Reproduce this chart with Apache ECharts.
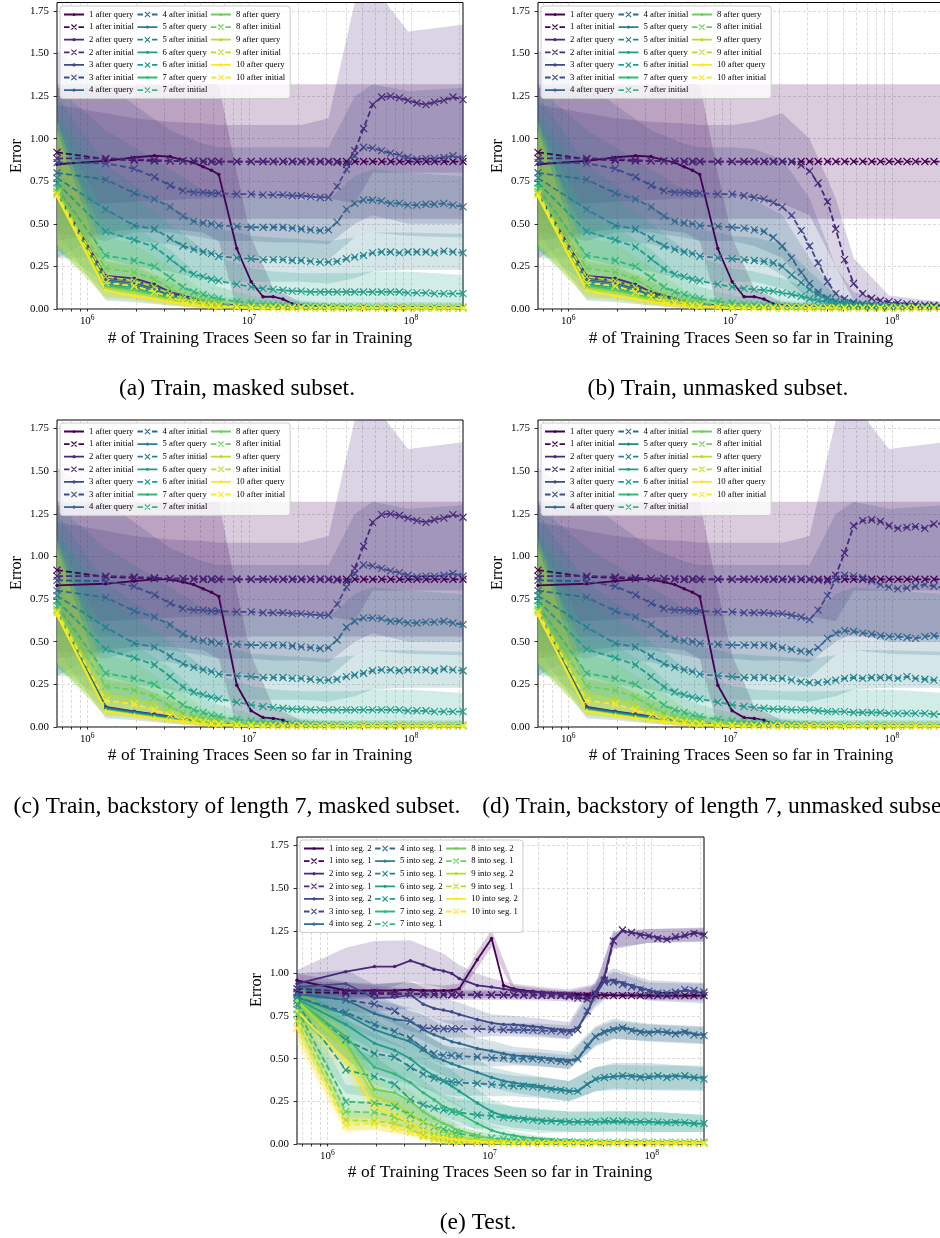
<!DOCTYPE html>
<html><head><meta charset="utf-8">
<script src="https://cdn.jsdelivr.net/npm/echarts@6/dist/echarts.min.js"></script>
<style>html,body{margin:0;padding:0;background:#fff;overflow:hidden}#c{width:940px;height:1238px}</style>
</head><body><div id="c"></div><script>
// ---------- x sample grids ----------
const X = [6.5e5,1.3e6,1.95e6,2.6e6,3.25e6,3.9e6,4.55e6,5.2e6,5.85e6,6.5e6, 8.4e6,1.03e7,1.22e7,1.41e7,1.62e7,1.85e7,2.1e7,2.4e7,2.75e7,3.1e7, 3.5e7,4e7,4.5e7,5.1e7,5.8e7,6.6e7,7.5e7,8.5e7,9.6e7,1.09e8, 1.24e8,1.4e8,1.6e8,1.82e8,2.1e8];
const XQ = [6.5e5,1.3e6,1.95e6,2.6e6,3.25e6,3.9e6,4.55e6,5.2e6,5.85e6,6.5e6, 8.4e6,1.03e7,1.22e7,1.41e7,1.62e7,1.85e7,2.1e7,3.1e7,5.1e7,8.5e7, 1.4e8,2.1e8];
const BX = [6.5e5,1.3e6,1.95e6,3.25e6,5.2e6,6.5e6,8.4e6,1.03e7,1.41e7,2.1e7,3.1e7,4.5e7,5.8e7,9.6e7,2.1e8];
const X_MAJOR = [1e6,1e7,1e8];
const X_TICKS = [7e5,8e5,9e5,1e6,2e6,3e6,4e6,5e6,6e6,7e6,8e6,9e6,1e7,2e7,3e7,4e7,5e7,6e7,7e7,8e7,9e7,1e8,2e8];
const Y_TICKS = [0,0.25,0.5,0.75,1,1.25,1.5,1.75];

// ---------- panel (a) : after initial ----------
const A_I1 = [0.92,0.88,0.875,0.87,0.87,0.87,0.868,0.866,0.866,0.866, 0.866,0.866,0.866,0.866,0.866,0.866,0.866,0.866,0.866,0.866, 0.866,0.866,0.866,0.866,0.866,0.866,0.866,0.866,0.866,0.866, 0.866,0.866,0.866,0.866,0.866];
const A_I2 = [0.885,0.885,0.88,0.875,0.87,0.87,0.868,0.866,0.866,0.866, 0.866,0.866,0.866,0.866,0.866,0.866,0.866,0.866,0.866,0.865, 0.862,0.85,0.93,1.06,1.2,1.245,1.25,1.24,1.225,1.21, 1.2,1.215,1.225,1.245,1.23];
const A_I3 = [0.86,0.855,0.825,0.775,0.725,0.695,0.685,0.685,0.68,0.68, 0.675,0.675,0.67,0.67,0.67,0.665,0.665,0.66,0.655,0.655, 0.72,0.82,0.9,0.95,0.945,0.93,0.915,0.905,0.89,0.88, 0.885,0.885,0.89,0.9,0.885];
const A_I4 = [0.8,0.76,0.68,0.645,0.6,0.545,0.515,0.505,0.5,0.49, 0.485,0.48,0.48,0.48,0.48,0.475,0.47,0.465,0.46,0.465, 0.51,0.585,0.62,0.64,0.64,0.635,0.62,0.62,0.61,0.61, 0.615,0.615,0.62,0.61,0.6];
const A_I5 = [0.77,0.585,0.49,0.47,0.415,0.37,0.35,0.335,0.325,0.31, 0.3,0.295,0.29,0.29,0.29,0.285,0.285,0.28,0.275,0.275, 0.28,0.295,0.305,0.315,0.33,0.335,0.335,0.33,0.335,0.335, 0.335,0.33,0.34,0.335,0.33];
const A_I6 = [0.74,0.455,0.405,0.365,0.295,0.235,0.205,0.19,0.175,0.165, 0.145,0.13,0.12,0.115,0.11,0.105,0.105,0.1,0.1,0.1, 0.1,0.1,0.1,0.1,0.1,0.1,0.1,0.1,0.095,0.095, 0.095,0.09,0.09,0.09,0.09];
const A_I7 = [0.71,0.315,0.285,0.25,0.185,0.13,0.1,0.085,0.07,0.06, 0.045,0.035,0.03,0.025,0.022,0.02,0.018,0.016,0.015,0.014, 0.013,0.012,0.012,0.012,0.011,0.011,0.011,0.01,0.01,0.01, 0.01,0.01,0.01,0.01,0.01];
const A_I8 = [0.69,0.24,0.215,0.175,0.12,0.08,0.06,0.05,0.04,0.035, 0.025,0.02,0.016,0.013,0.011,0.01,0.01,0.009,0.009,0.008, 0.008,0.008,0.008,0.008,0.008,0.008,0.007,0.007,0.007,0.007, 0.007,0.007,0.007,0.007,0.007];
const A_I9 = [0.68,0.19,0.165,0.13,0.09,0.06,0.045,0.035,0.028,0.022, 0.015,0.012,0.01,0.009,0.008,0.007,0.007,0.007,0.006,0.006, 0.006,0.006,0.006,0.006,0.006,0.006,0.006,0.006,0.006,0.006, 0.006,0.006,0.006,0.006,0.006];
const A_I10 = [0.67,0.155,0.135,0.1,0.07,0.045,0.035,0.026,0.02,0.016, 0.011,0.009,0.008,0.007,0.006,0.006,0.006,0.005,0.005,0.005, 0.005,0.005,0.005,0.005,0.005,0.005,0.005,0.005,0.005,0.005, 0.005,0.005,0.005,0.005,0.005];

// ---------- panel (a)/(b) : after query ----------
const A_Q1 = [0.85,0.87,0.89,0.9,0.895,0.875,0.86,0.835,0.815,0.79, 0.355,0.16,0.072,0.072,0.058,0.03,0.02,0.015,0.012,0.011, 0.01,0.01];
const A_Q2 = [0.675,0.195,0.18,0.145,0.1,0.08,0.062,0.048,0.038,0.03, 0.02,0.016,0.013,0.012,0.011,0.01,0.01,0.009,0.008,0.008, 0.008,0.008];
const A_Q3 = [0.672,0.182,0.165,0.132,0.092,0.072,0.055,0.043,0.034,0.027, 0.018,0.014,0.012,0.011,0.01,0.009,0.009,0.008,0.007,0.007, 0.007,0.007];
const A_Q4 = [0.668,0.17,0.152,0.12,0.084,0.065,0.05,0.039,0.031,0.025, 0.016,0.013,0.011,0.01,0.009,0.008,0.008,0.007,0.007,0.006, 0.006,0.006];
const A_Q5 = [0.666,0.158,0.14,0.11,0.077,0.058,0.045,0.035,0.028,0.022, 0.015,0.012,0.01,0.009,0.008,0.008,0.007,0.006,0.006,0.006, 0.006,0.006];
const A_Q6 = [0.665,0.148,0.128,0.1,0.07,0.053,0.041,0.032,0.025,0.02, 0.013,0.011,0.009,0.008,0.007,0.007,0.006,0.006,0.005,0.005, 0.005,0.005];
const A_Q7 = [0.664,0.138,0.117,0.09,0.063,0.048,0.037,0.029,0.022,0.018, 0.012,0.01,0.008,0.007,0.007,0.006,0.006,0.005,0.005,0.005, 0.005,0.005];
const A_Q8 = [0.663,0.13,0.106,0.082,0.057,0.043,0.033,0.026,0.02,0.016, 0.011,0.009,0.008,0.007,0.006,0.006,0.005,0.005,0.005,0.004, 0.004,0.004];
const A_Q9 = [0.662,0.12,0.095,0.073,0.051,0.038,0.029,0.023,0.018,0.014, 0.01,0.008,0.007,0.006,0.006,0.005,0.005,0.004,0.004,0.004, 0.004,0.004];
const A_Q10 = [0.66,0.11,0.075,0.058,0.042,0.032,0.025,0.02,0.016,0.012, 0.009,0.007,0.006,0.005,0.005,0.005,0.004,0.004,0.004,0.004, 0.004,0.004];

// ---------- panel (b) : after initial (differing series) ----------
const B_I2 = [0.885,0.885,0.88,0.875,0.87,0.87,0.868,0.866,0.866,0.866, 0.866,0.866,0.866,0.866,0.866,0.866,0.866,0.865,0.845,0.81, 0.74,0.63,0.47,0.29,0.15,0.09,0.063,0.05,0.043,0.037, 0.03,0.027,0.024,0.022,0.02];
const B_I3 = [0.86,0.855,0.825,0.775,0.725,0.695,0.685,0.685,0.68,0.68, 0.675,0.675,0.665,0.655,0.645,0.625,0.6,0.55,0.46,0.37, 0.27,0.16,0.09,0.06,0.04,0.03,0.025,0.02,0.02,0.018, 0.016,0.015,0.014,0.013,0.012];
const B_I4 = [0.8,0.76,0.68,0.645,0.6,0.545,0.515,0.505,0.5,0.49, 0.485,0.48,0.475,0.465,0.455,0.42,0.37,0.3,0.215,0.15, 0.1,0.065,0.045,0.035,0.03,0.025,0.02,0.02,0.018,0.016, 0.015,0.014,0.013,0.012,0.012];
const B_I5 = [0.77,0.585,0.49,0.47,0.415,0.37,0.35,0.335,0.325,0.31, 0.3,0.295,0.29,0.285,0.28,0.27,0.25,0.2,0.155,0.115, 0.085,0.06,0.045,0.035,0.03,0.025,0.02,0.018,0.016,0.015, 0.014,0.013,0.012,0.011,0.011];
const B_I6 = [0.74,0.455,0.405,0.365,0.295,0.235,0.205,0.19,0.175,0.165, 0.145,0.13,0.12,0.115,0.11,0.105,0.095,0.085,0.075,0.06, 0.05,0.04,0.03,0.025,0.02,0.018,0.016,0.014,0.013,0.012, 0.011,0.011,0.01,0.01,0.01];

// ---------- panel (c)/(d) : after query ----------
const C_Q1 = [0.83,0.84,0.855,0.865,0.865,0.85,0.835,0.81,0.79,0.765, 0.245,0.095,0.055,0.05,0.04,0.015,0.01,0.01,0.009,0.009, 0.008,0.008];
const C_Q2 = [0.67,0.118,0.092,0.076,0.062,0.05,0.04,0.032,0.026,0.02, 0.014,0.011,0.01,0.009,0.008,0.008,0.007,0.007,0.006,0.006, 0.006,0.006];
const C_Q3 = [0.668,0.113,0.088,0.072,0.058,0.047,0.037,0.03,0.024,0.019, 0.013,0.01,0.009,0.008,0.008,0.007,0.007,0.006,0.006,0.006, 0.005,0.005];
const C_Q4 = [0.666,0.109,0.085,0.069,0.055,0.044,0.035,0.028,0.022,0.018, 0.012,0.01,0.009,0.008,0.007,0.007,0.006,0.006,0.005,0.005, 0.005,0.005];
const C_Q5 = [0.665,0.106,0.082,0.066,0.052,0.042,0.033,0.026,0.021,0.017, 0.012,0.009,0.008,0.007,0.007,0.006,0.006,0.005,0.005,0.005, 0.005,0.005];
const C_Q6 = [0.664,0.103,0.079,0.063,0.05,0.04,0.031,0.025,0.02,0.016, 0.011,0.009,0.008,0.007,0.006,0.006,0.005,0.005,0.005,0.004, 0.004,0.004];
const C_Q7 = [0.663,0.1,0.076,0.06,0.047,0.037,0.029,0.023,0.018,0.015, 0.01,0.008,0.007,0.006,0.006,0.005,0.005,0.005,0.004,0.004, 0.004,0.004];
const C_Q8 = [0.662,0.098,0.074,0.058,0.045,0.035,0.028,0.022,0.017,0.014, 0.01,0.008,0.007,0.006,0.005,0.005,0.005,0.004,0.004,0.004, 0.004,0.004];
const C_Q9 = [0.661,0.096,0.071,0.055,0.043,0.033,0.026,0.02,0.016,0.013, 0.009,0.007,0.006,0.006,0.005,0.005,0.004,0.004,0.004,0.004, 0.004,0.004];
const C_Q10 = [0.655,0.093,0.068,0.052,0.04,0.031,0.024,0.019,0.015,0.012, 0.008,0.007,0.006,0.005,0.005,0.004,0.004,0.004,0.004,0.004, 0.004,0.004];

// ---------- panel (d) : after initial (differing series) ----------
const D_I2 = [0.885,0.885,0.88,0.875,0.87,0.87,0.868,0.866,0.866,0.866, 0.866,0.866,0.866,0.866,0.866,0.866,0.866,0.866,0.866,0.865, 0.862,0.855,0.89,1.02,1.18,1.21,1.215,1.205,1.18,1.165, 1.17,1.175,1.165,1.19,1.195];
const D_I3 = [0.86,0.855,0.825,0.775,0.725,0.695,0.685,0.685,0.68,0.68, 0.675,0.675,0.67,0.67,0.67,0.665,0.665,0.655,0.645,0.63, 0.685,0.77,0.865,0.89,0.885,0.875,0.855,0.835,0.82,0.81, 0.815,0.825,0.835,0.825,0.815];
const D_I4 = [0.8,0.76,0.68,0.645,0.6,0.545,0.515,0.505,0.5,0.49, 0.485,0.48,0.48,0.48,0.48,0.475,0.465,0.455,0.445,0.44, 0.465,0.52,0.55,0.565,0.56,0.55,0.545,0.535,0.53,0.53, 0.525,0.52,0.53,0.535,0.525];
const D_I5 = [0.77,0.585,0.49,0.47,0.415,0.37,0.35,0.335,0.325,0.31, 0.3,0.295,0.29,0.29,0.29,0.285,0.285,0.275,0.265,0.26, 0.26,0.265,0.275,0.285,0.29,0.285,0.29,0.29,0.29,0.285, 0.295,0.285,0.28,0.275,0.27];
const D_I6 = [0.74,0.455,0.405,0.365,0.295,0.235,0.205,0.19,0.175,0.165, 0.145,0.13,0.12,0.115,0.11,0.105,0.105,0.1,0.1,0.1, 0.095,0.09,0.09,0.09,0.085,0.085,0.085,0.085,0.08,0.08, 0.08,0.08,0.08,0.075,0.075];

// ---------- bands (low / high on BX) panels a-d ----------
const A_BQ1_LO = [0.4,0.45,0.47,0.47,0.45,0.4,0,0,0,0,0,0,0,0,0];
const A_BQ1_HI = [1.3,1.3,1.31,1.32,1.32,1.32,0.8,0.42,0.12,0.04,0.03,0.025,0.02,0.02,0.02];
const A_BQ5_LO = [0.45,0.05,0.04,0.02,0.005,0,0,0,0,0,0,0,0,0,0];
const A_BQ5_HI = [0.9,0.28,0.25,0.16,0.08,0.06,0.04,0.03,0.02,0.015,0.012,0.01,0.01,0.01,0.01];
const A_BQ9_LO = [0.37,0.06,0.05,0.02,0.005,0,0,0,0,0,0,0,0,0,0];
const A_BQ9_HI = [1.1,0.3,0.26,0.17,0.08,0.06,0.04,0.03,0.02,0.015,0.012,0.01,0.01,0.01,0.01];
const A_BQ10_LO = [0.38,0.07,0.05,0.02,0.005,0,0,0,0,0,0,0,0,0,0];
const A_BQ10_HI = [1.05,0.2,0.16,0.1,0.05,0.04,0.025,0.02,0.015,0.012,0.01,0.01,0.01,0.01,0.01];
const A_BI1_LO = [0.53,0.53,0.53,0.53,0.53,0.53,0.53,0.53,0.53,0.53,0.53,0.53,0.53,0.53,0.53];
const A_BI1_HI = [1.32,1.32,1.32,1.32,1.32,1.32,1.32,1.32,1.32,1.32,1.32,1.32,1.32,1.32,1.32];
const A_BI2_LO = [0.62,0.62,0.63,0.64,0.65,0.65,0.65,0.65,0.65,0.65,0.65,0.62,0.8,0.8,0.8];
const A_BI2_HI = [1.2,1.15,1.12,1.1,1.09,1.08,1.08,1.08,1.08,1.08,1.12,1.8,1.9,1.63,1.67];
const A_BI3_LO = [0.45,0.4,0.45,0.45,0.42,0.4,0.4,0.4,0.39,0.39,0.38,0.5,0.55,0.5,0.5];
const A_BI3_HI = [1.52,1.32,1.2,1.05,0.97,0.95,0.95,0.95,0.95,0.95,0.95,1.25,1.32,1.28,1.3];
const A_BI4_LO = [0.3,0.45,0.4,0.38,0.33,0.32,0.31,0.31,0.3,0.3,0.29,0.42,0.45,0.43,0.42];
const A_BI4_HI = [1.3,1.05,0.95,0.82,0.7,0.68,0.66,0.65,0.65,0.64,0.64,0.78,0.82,0.8,0.78];
const A_BI5_LO = [0.3,0.3,0.25,0.22,0.17,0.16,0.16,0.16,0.16,0.16,0.15,0.18,0.22,0.23,0.23];
const A_BI5_HI = [1.25,0.85,0.73,0.6,0.5,0.47,0.45,0.43,0.42,0.41,0.4,0.42,0.45,0.45,0.44];
const A_BI6_LO = [0.35,0.15,0.13,0.08,0.05,0.04,0.03,0.025,0.02,0.02,0.02,0.02,0.02,0.02,0.02];
const A_BI6_HI = [1.15,0.75,0.65,0.5,0.35,0.3,0.27,0.24,0.22,0.21,0.21,0.21,0.22,0.22,0.2];
const A_BI7_LO = [0.35,0.1,0.09,0.05,0.02,0.01,0.005,0,0,0,0,0,0,0,0];
const A_BI7_HI = [1.1,0.55,0.48,0.35,0.17,0.13,0.1,0.08,0.06,0.05,0.04,0.04,0.04,0.04,0.04];
const A_BI8_LO = [0.35,0.07,0.06,0.03,0.01,0,0,0,0,0,0,0,0,0,0];
const A_BI8_HI = [1.05,0.42,0.38,0.25,0.11,0.08,0.06,0.05,0.04,0.03,0.03,0.03,0.03,0.03,0.03];
const B_BI2_LO = [0.62,0.62,0.63,0.64,0.65,0.65,0.65,0.65,0.65,0.62,0.55,0.25,0.05,0,0];
const B_BI2_HI = [1.2,1.15,1.12,1.1,1.09,1.08,1.08,1.08,1.1,1.15,1.0,0.65,0.3,0.08,0.04];
const B_BI3_LO = [0.45,0.4,0.45,0.45,0.42,0.4,0.4,0.4,0.37,0.3,0.12,0,0,0,0];
const B_BI3_HI = [1.52,1.32,1.2,1.05,0.97,0.95,0.95,0.95,0.94,0.88,0.65,0.25,0.1,0.04,0.03];
const B_BI4_LO = [0.3,0.45,0.4,0.38,0.33,0.32,0.31,0.31,0.29,0.2,0.05,0,0,0,0];
const B_BI4_HI = [1.3,1.05,0.95,0.82,0.7,0.68,0.66,0.65,0.64,0.55,0.3,0.09,0.05,0.03,0.03];
const B_BI5_LO = [0.3,0.3,0.25,0.22,0.17,0.16,0.16,0.16,0.16,0.12,0.03,0,0,0,0];
const B_BI5_HI = [1.25,0.85,0.73,0.6,0.5,0.47,0.45,0.43,0.42,0.38,0.22,0.08,0.05,0.03,0.03];
const B_BI6_LO = [0.35,0.15,0.13,0.08,0.05,0.04,0.03,0.025,0.02,0.015,0.01,0,0,0,0];
const B_BI6_HI = [1.15,0.75,0.65,0.5,0.35,0.3,0.27,0.24,0.22,0.18,0.12,0.06,0.04,0.03,0.03];

// ---------- panel (e) : into seg. 2 (solid) / into seg. 1 (dashed) ----------
const E_1S2 = [0.96,0.9,0.9,0.9,0.905,0.9,0.9,0.9,0.9,0.91, 1.08,1.205,0.93,0.91,0.9,0.895,0.89,0.885,0.882,0.88, 0.878,0.876,0.875,0.874,0.873,0.872,0.872,0.871,0.87,0.87, 0.87,0.87,0.87,0.87,0.87];
const E_1S1 = [0.89,0.885,0.882,0.88,0.88,0.878,0.877,0.876,0.875,0.875, 0.875,0.874,0.874,0.874,0.873,0.873,0.872,0.872,0.872,0.871, 0.871,0.87,0.87,0.87,0.87,0.87,0.87,0.87,0.87,0.87, 0.87,0.87,0.87,0.87,0.87];
const E_2S2 = [0.94,1.01,1.04,1.04,1.075,1.05,1.025,1.015,1.0,0.97, 0.93,0.92,0.91,0.9,0.895,0.893,0.89,0.885,0.882,0.878, 0.86,0.85,0.89,0.98,1.2,1.25,1.24,1.23,1.22,1.21, 1.2,1.21,1.22,1.24,1.23];
const E_2S1 = [0.91,0.895,0.89,0.885,0.88,0.878,0.877,0.876,0.875,0.875, 0.875,0.874,0.874,0.874,0.873,0.873,0.872,0.872,0.87,0.865, 0.855,0.85,0.88,0.96,1.19,1.255,1.24,1.225,1.22,1.205, 1.2,1.215,1.225,1.235,1.225];
const E_3S2 = [0.92,0.94,0.855,0.86,0.875,0.82,0.795,0.785,0.775,0.76, 0.73,0.71,0.7,0.7,0.695,0.69,0.685,0.675,0.67,0.665, 0.68,0.77,0.88,0.955,0.96,0.945,0.93,0.915,0.9,0.89, 0.885,0.89,0.9,0.895,0.885];
const E_3S1 = [0.88,0.845,0.82,0.78,0.72,0.68,0.677,0.676,0.676,0.675, 0.675,0.672,0.67,0.67,0.67,0.668,0.665,0.663,0.66,0.655, 0.67,0.78,0.88,0.95,0.95,0.935,0.92,0.905,0.895,0.885, 0.885,0.89,0.905,0.9,0.89];
const E_4S2 = [0.88,0.845,0.765,0.73,0.72,0.67,0.64,0.62,0.6,0.59, 0.56,0.545,0.53,0.52,0.515,0.51,0.505,0.5,0.495,0.49, 0.5,0.57,0.63,0.66,0.675,0.685,0.67,0.66,0.655,0.66, 0.655,0.65,0.66,0.645,0.64];
const E_4S1 = [0.86,0.772,0.7,0.66,0.62,0.56,0.53,0.52,0.52,0.515, 0.51,0.505,0.505,0.5,0.5,0.5,0.495,0.49,0.485,0.48, 0.5,0.58,0.63,0.655,0.67,0.68,0.665,0.655,0.65,0.66, 0.655,0.645,0.655,0.64,0.635];
const E_5S2 = [0.86,0.76,0.67,0.63,0.6,0.55,0.51,0.49,0.47,0.455, 0.42,0.39,0.37,0.36,0.35,0.345,0.335,0.325,0.32,0.31, 0.31,0.35,0.38,0.39,0.395,0.4,0.4,0.395,0.39,0.4, 0.395,0.4,0.395,0.39,0.39];
const E_5S1 = [0.84,0.61,0.53,0.51,0.45,0.41,0.385,0.37,0.365,0.36, 0.355,0.35,0.345,0.34,0.34,0.335,0.33,0.32,0.315,0.31, 0.31,0.35,0.38,0.39,0.395,0.4,0.395,0.39,0.395,0.4, 0.39,0.395,0.4,0.39,0.38];
const E_6S2 = [0.85,0.7,0.59,0.55,0.5,0.44,0.4,0.37,0.34,0.31, 0.24,0.19,0.165,0.155,0.15,0.145,0.14,0.135,0.135,0.13, 0.13,0.13,0.13,0.13,0.13,0.13,0.13,0.13,0.13,0.125, 0.125,0.13,0.125,0.12,0.12];
const E_6S1 = [0.82,0.434,0.395,0.35,0.26,0.23,0.21,0.2,0.19,0.185, 0.17,0.165,0.155,0.15,0.145,0.14,0.135,0.135,0.13,0.13, 0.13,0.13,0.13,0.135,0.135,0.135,0.13,0.13,0.13,0.13, 0.125,0.125,0.125,0.12,0.12];
const E_7S2 = [0.84,0.63,0.45,0.41,0.36,0.3,0.26,0.22,0.2,0.18, 0.12,0.08,0.06,0.05,0.04,0.035,0.03,0.025,0.02,0.02, 0.018,0.016,0.015,0.014,0.013,0.012,0.012,0.011,0.011,0.01, 0.01,0.01,0.01,0.01,0.01];
const E_7S1 = [0.79,0.248,0.24,0.22,0.17,0.13,0.1,0.085,0.07,0.06, 0.045,0.035,0.03,0.025,0.02,0.02,0.017,0.015,0.014,0.013, 0.012,0.012,0.011,0.011,0.011,0.01,0.01,0.01,0.01,0.01, 0.01,0.01,0.01,0.01,0.01];
const E_8S2 = [0.84,0.6,0.32,0.3,0.25,0.19,0.15,0.12,0.1,0.08, 0.05,0.03,0.02,0.015,0.012,0.01,0.01,0.009,0.009,0.008, 0.008,0.008,0.008,0.008,0.008,0.007,0.007,0.007,0.007,0.007, 0.007,0.007,0.007,0.007,0.007];
const E_8S1 = [0.76,0.19,0.185,0.16,0.12,0.08,0.05,0.04,0.03,0.025, 0.02,0.015,0.012,0.01,0.009,0.008,0.008,0.007,0.007,0.007, 0.007,0.007,0.006,0.006,0.006,0.006,0.006,0.006,0.006,0.006, 0.006,0.006,0.006,0.006,0.006];
const E_9S2 = [0.84,0.56,0.28,0.24,0.18,0.13,0.1,0.07,0.06,0.045, 0.025,0.02,0.015,0.01,0.009,0.008,0.008,0.007,0.007,0.007, 0.006,0.006,0.006,0.006,0.006,0.006,0.006,0.006,0.006,0.006, 0.006,0.006,0.006,0.006,0.006];
const E_9S1 = [0.72,0.14,0.135,0.12,0.09,0.05,0.035,0.025,0.02,0.015, 0.01,0.008,0.007,0.006,0.006,0.005,0.005,0.005,0.005,0.005, 0.005,0.005,0.005,0.005,0.005,0.005,0.005,0.005,0.005,0.005, 0.005,0.005,0.005,0.005,0.005];
const E_10S2 = [0.78,0.49,0.22,0.17,0.12,0.08,0.05,0.04,0.03,0.025, 0.015,0.01,0.008,0.007,0.006,0.005,0.005,0.005,0.005,0.005, 0.005,0.005,0.005,0.005,0.005,0.005,0.005,0.005,0.005,0.005, 0.005,0.005,0.005,0.005,0.005];
const E_10S1 = [0.68,0.111,0.12,0.09,0.07,0.04,0.025,0.02,0.015,0.01, 0.008,0.007,0.006,0.005,0.005,0.005,0.005,0.005,0.005,0.005, 0.005,0.005,0.005,0.005,0.005,0.005,0.005,0.005,0.005,0.005, 0.005,0.005,0.005,0.005,0.005];

// ---------- panel (e) band half-widths on BX ----------
const E_SD_1S2 = [0.04,0.05,0.04,0.04,0.03,0.03,0.05,0.05,0.02,0.02,0.015,0.015,0.015,0.015,0.015];
const E_SD_1S1 = [0.03,0.02,0.02,0.02,0.02,0.02,0.02,0.02,0.02,0.02,0.02,0.02,0.02,0.015,0.015];
const E_SD_2S2 = [0.08,0.14,0.15,0.12,0.1,0.08,0.07,0.05,0.04,0.03,0.03,0.05,0.05,0.04,0.04];
const E_SD_2S1 = [0.05,0.05,0.04,0.03,0.03,0.03,0.03,0.03,0.03,0.03,0.03,0.05,0.05,0.04,0.04];
const E_SD_3S2 = [0.08,0.08,0.08,0.08,0.07,0.07,0.06,0.05,0.05,0.05,0.05,0.08,0.07,0.06,0.06];
const E_SD_3S1 = [0.06,0.06,0.06,0.06,0.05,0.05,0.05,0.04,0.04,0.04,0.04,0.06,0.06,0.05,0.05];
const E_SD_4S2 = [0.08,0.08,0.08,0.08,0.07,0.07,0.06,0.06,0.05,0.05,0.05,0.06,0.06,0.05,0.05];
const E_SD_4S1 = [0.07,0.08,0.08,0.07,0.06,0.05,0.05,0.05,0.04,0.04,0.04,0.05,0.05,0.05,0.05];
const E_SD_5S2 = [0.1,0.12,0.12,0.1,0.09,0.08,0.07,0.06,0.06,0.06,0.06,0.07,0.07,0.07,0.07];
const E_SD_5S1 = [0.1,0.12,0.12,0.1,0.08,0.08,0.07,0.07,0.06,0.06,0.06,0.07,0.08,0.08,0.07];
const E_SD_6S2 = [0.1,0.14,0.14,0.12,0.1,0.09,0.08,0.07,0.06,0.06,0.06,0.06,0.06,0.06,0.05];
const E_SD_6S1 = [0.1,0.14,0.12,0.11,0.09,0.08,0.08,0.07,0.07,0.07,0.06,0.06,0.06,0.06,0.05];
const E_SD_7S2 = [0.1,0.12,0.1,0.08,0.06,0.05,0.04,0.03,0.02,0.015,0.01,0.01,0.01,0.01,0.01];
const E_SD_7S1 = [0.1,0.1,0.09,0.08,0.05,0.04,0.03,0.02,0.015,0.01,0.01,0.01,0.01,0.01,0.01];
const E_SD_8S2 = [0.1,0.1,0.08,0.06,0.04,0.03,0.025,0.02,0.01,0.01,0.008,0.008,0.008,0.008,0.008];
const E_SD_8S1 = [0.1,0.07,0.06,0.05,0.03,0.02,0.015,0.01,0.01,0.008,0.006,0.006,0.006,0.006,0.006];
const E_SD_9S2 = [0.1,0.1,0.08,0.06,0.04,0.03,0.02,0.015,0.01,0.008,0.006,0.006,0.006,0.006,0.006];
const E_SD_9S1 = [0.1,0.06,0.05,0.04,0.02,0.015,0.01,0.008,0.006,0.005,0.005,0.005,0.005,0.005,0.005];
const E_SD_10S2 = [0.1,0.08,0.07,0.05,0.03,0.02,0.015,0.01,0.008,0.006,0.005,0.005,0.005,0.005,0.005];
const E_SD_10S1 = [0.1,0.05,0.04,0.03,0.02,0.01,0.008,0.006,0.005,0.005,0.005,0.005,0.005,0.005,0.005];

// ---------- texts ----------
const CAPTIONS = ['(a) Train, masked subset.','(b) Train, unmasked subset.','(c) Train, backstory of length 7, masked subset.','(d) Train, backstory of length 7, unmasked subset.','(e) Test.'];
const X_TITLE = '# of Training Traces Seen so far in Training';
const Y_TITLE = 'Error';

// ---------- styling / layout ----------
const FONT = 'Liberation Serif';
const COLORS = ['#440154','#482878','#3e4989','#31688e','#26828e','#1f9e89','#35b779','#6dcd59','#b4de2c','#fde725'];
const XPATH = 'path://M0,0L10,10M10,0L0,10';
// legend glyphs (20 x 8 box): solid line with dot / dashed line with x
const ICON_SOLID = 'path://M0,0L0.01,0L0,0.01Z M20,8L19.99,8L20,7.99Z M0,3.1L20,3.1L20,4.9L0,4.9Z M8.4,4A1.6,1.6 0 1 1 11.6,4A1.6,1.6 0 1 1 8.4,4Z';
const ICON_DASH = 'path://M0,0L0.01,0L0,0.01Z M20,8L19.99,8L20,7.99Z M0,3.1L5.5,3.1L5.5,4.9L0,4.9Z M14.5,3.1L20,3.1L20,4.9L14.5,4.9Z M7,1.8L7.8,1L13,6.2L12.2,7Z M12.2,1L13,1.8L7.8,7L7,6.2Z';
function rgba(hex,a){const n=parseInt(hex.slice(1),16);return 'rgba('+(n>>16)+','+((n>>8)&255)+','+(n&255)+','+a+')';}

const A_I = [A_I1,A_I2,A_I3,A_I4,A_I5,A_I6,A_I7,A_I8,A_I9,A_I10];
const A_Q = [A_Q1,A_Q2,A_Q3,A_Q4,A_Q5,A_Q6,A_Q7,A_Q8,A_Q9,A_Q10];
const C_Q = [C_Q1,C_Q2,C_Q3,C_Q4,C_Q5,C_Q6,C_Q7,C_Q8,C_Q9,C_Q10];
const B_I = [A_I1,B_I2,B_I3,B_I4,B_I5,B_I6,A_I7,A_I8,A_I9,A_I10];
const D_I = [A_I1,D_I2,D_I3,D_I4,D_I5,D_I6,A_I7,A_I8,A_I9,A_I10];
const E_S2 = [E_1S2,E_2S2,E_3S2,E_4S2,E_5S2,E_6S2,E_7S2,E_8S2,E_9S2,E_10S2];
const E_S1 = [E_1S1,E_2S1,E_3S1,E_4S1,E_5S1,E_6S1,E_7S1,E_8S1,E_9S1,E_10S1];
const E_SD2 = [E_SD_1S2,E_SD_2S2,E_SD_3S2,E_SD_4S2,E_SD_5S2,E_SD_6S2,E_SD_7S2,E_SD_8S2,E_SD_9S2,E_SD_10S2];
const E_SD1 = [E_SD_1S1,E_SD_2S1,E_SD_3S1,E_SD_4S1,E_SD_5S1,E_SD_6S1,E_SD_7S1,E_SD_8S1,E_SD_9S1,E_SD_10S1];

const A_BANDS = [[0,A_BQ1_LO,A_BQ1_HI],[0,A_BI1_LO,A_BI1_HI],[1,A_BI2_LO,A_BI2_HI],[2,A_BI3_LO,A_BI3_HI],[3,A_BI4_LO,A_BI4_HI],[4,A_BQ5_LO,A_BQ5_HI],[4,A_BI5_LO,A_BI5_HI],[5,A_BI6_LO,A_BI6_HI],[6,A_BI7_LO,A_BI7_HI],[7,A_BI8_LO,A_BI8_HI],[8,A_BQ9_LO,A_BQ9_HI],[9,A_BQ10_LO,A_BQ10_HI]];
const B_BANDS = [[0,A_BQ1_LO,A_BQ1_HI],[0,A_BI1_LO,A_BI1_HI],[1,B_BI2_LO,B_BI2_HI],[2,B_BI3_LO,B_BI3_HI],[3,B_BI4_LO,B_BI4_HI],[4,A_BQ5_LO,A_BQ5_HI],[4,B_BI5_LO,B_BI5_HI],[5,B_BI6_LO,B_BI6_HI],[6,A_BI7_LO,A_BI7_HI],[7,A_BI8_LO,A_BI8_HI],[8,A_BQ9_LO,A_BQ9_HI],[9,A_BQ10_LO,A_BQ10_HI]];
// panel (e) bands: mean +/- half-width at the BX samples
const E_BANDS = [];
for (let k=0;k<10;k++){
  [[E_S2[k],E_SD2[k]],[E_S1[k],E_SD1[k]]].forEach(([m,sd])=>{
    const lo=[],hi=[];
    BX.forEach((bx,j)=>{const v=m[X.indexOf(bx)];lo.push(Math.max(0,v-sd[j]));hi.push(v+sd[j]);});
    E_BANDS.push([k,lo,hi]);
  });
}

const PANELS = [
 {rect:[57,2.5,406,306.5], leg:[60,6], qx:XQ, q:A_Q, i:A_I, bands:A_BANDS, n1:' after query', n2:' after initial', cap:[237,389], xt:[260,338], yt:[17,156]},
 {rect:[538,2.5,406,306.5], leg:[541,6], qx:XQ, q:A_Q, i:B_I, bands:B_BANDS, n1:' after query', n2:' after initial', cap:[718,389], xt:[741,338], yt:[498,156]},
 {rect:[57,420,406,307], leg:[60,423], qx:XQ, q:C_Q, i:A_I, bands:A_BANDS, n1:' after query', n2:' after initial', cap:[237,807], xt:[260,755], yt:[17,573]},
 {rect:[538,420,406,307], leg:[541,423], qx:XQ, q:C_Q, i:D_I, bands:A_BANDS, n1:' after query', n2:' after initial', cap:[718,807], xt:[741,755], yt:[498,573]},
 {rect:[297,837,407,307], leg:[300,840], qx:X, q:E_S2, i:E_S1, bands:E_BANDS, n1:' into seg. 2', n2:' into seg. 1', cap:[478,1223], xt:[500,1172], yt:[257,990]}
];

const grids=[],xAxes=[],yAxes=[],legends=[],series=[],graphics=[];
const gridLine = {show:true, lineStyle:{color:'rgba(160,160,160,0.55)', width:0.7, type:[3,2]}};
PANELS.forEach((p,gi)=>{
  grids.push({left:p.rect[0], top:p.rect[1], width:p.rect[2], height:p.rect[3], show:true, borderColor:'#000', borderWidth:1, backgroundColor:'transparent', containLabel:false, outerBoundsMode:'none'});
  xAxes.push({type:'log', logBase:10, gridIndex:gi, min:6.5e5, max:2.1e8,
    axisLine:{show:false},
    axisTick:{show:true, length:2.5, lineStyle:{color:'#000', width:0.8}, customValues:X_TICKS},
    axisLabel:{customValues:X_MAJOR, margin:5, color:'#000',
      formatter:v=>'{b|10}{s|'+Math.round(Math.log10(v))+'}',
      rich:{b:{fontFamily:FONT,fontSize:10.9,color:'#000'}, s:{fontFamily:FONT,fontSize:7.6,color:'#000',verticalAlign:'top',padding:[0,0,6,0]}}},
    splitLine:gridLine});
  yAxes.push({type:'value', gridIndex:gi, min:0, max:1.8, interval:0.25,
    axisLine:{show:false},
    axisTick:{show:true, length:3.5, lineStyle:{color:'#000', width:0.8}, customValues:Y_TICKS},
    axisLabel:{customValues:Y_TICKS, margin:8, color:'#000', fontFamily:FONT, fontSize:10.9, formatter:v=>v.toFixed(2)},
    splitLine:gridLine});
  const items=[];
  for(let k=0;k<10;k++){items.push({name:(k+1)+p.n1, icon:ICON_SOLID}); items.push({name:(k+1)+p.n2, icon:ICON_DASH});}
  legends.push({show:true, type:'plain', orient:'vertical', left:p.leg[0], top:p.leg[1], height:88, data:items,
    itemWidth:20, itemHeight:8, itemGap:3.6, padding:[4,5,4,4], selectedMode:false,
    itemStyle:{borderWidth:0}, symbolKeepAspect:false,
    backgroundColor:'rgba(255,255,255,0.8)', borderColor:'#cccccc', borderWidth:1, borderRadius:3,
    textStyle:{fontFamily:FONT, fontSize:8.7, color:'#000', lineHeight:8}});
  // bands
  p.bands.forEach(([k,lo,hi])=>{
    series.push({type:'custom', xAxisIndex:gi, yAxisIndex:gi, silent:true, clip:true, animation:false, z:1,
      data:[[BX[0], lo[0]]],
      renderItem:(params, api)=>{
        const pts=[];
        for(let j=0;j<BX.length;j++) pts.push(api.coord([BX[j],hi[j]]));
        for(let j=BX.length-1;j>=0;j--) pts.push(api.coord([BX[j],lo[j]]));
        return {type:'polygon', shape:{points:pts}, style:{fill:rgba(COLORS[k],0.2)}};
      }});
  });
  // lines
  for(let k=0;k<10;k++){
    const c=COLORS[k];
    series.push({type:'line', name:(k+1)+p.n1, xAxisIndex:gi, yAxisIndex:gi, color:c,
      data:p.qx.map((x,j)=>[x,p.q[k][j]]),
      symbol:'circle', symbolSize:3.5, showSymbol:true, showAllSymbol:true,
      lineStyle:{color:c, width:1.8, type:'solid'}, itemStyle:{color:c, borderWidth:0},
      clip:true, silent:true, animation:false, z:2});
    series.push({type:'line', name:(k+1)+p.n2, xAxisIndex:gi, yAxisIndex:gi, color:c,
      data:X.map((x,j)=>[x,p.i[k][j]]),
      symbol:XPATH, symbolSize:7, symbolKeepAspect:true, showSymbol:true, showAllSymbol:true,
      lineStyle:{color:c, width:1.8, type:[6,3]}, itemStyle:{color:c, borderColor:c, borderWidth:1.2},
      clip:true, silent:true, animation:false, z:2});
  }
  graphics.push({type:'text', x:p.cap[0], y:p.cap[1], style:{text:CAPTIONS[gi], fontFamily:FONT, fontSize:23.5, fill:'#000', align:'center', verticalAlign:'middle', textAlign:'center', textVerticalAlign:'middle'}});
  graphics.push({type:'text', x:p.xt[0], y:p.xt[1], style:{text:X_TITLE, fontFamily:FONT, fontSize:17.4, fill:'#000', align:'center', verticalAlign:'middle', textAlign:'center', textVerticalAlign:'middle'}});
  graphics.push({type:'text', x:p.yt[0], y:p.yt[1], rotation:Math.PI/2, style:{text:Y_TITLE, fontFamily:FONT, fontSize:16, fill:'#000', align:'center', verticalAlign:'middle', textAlign:'center', textVerticalAlign:'middle'}});
});

const chart = echarts.init(document.getElementById('c'), null, {renderer:'canvas'});
chart.setOption({animation:false, backgroundColor:'#fff', grid:grids, xAxis:xAxes, yAxis:yAxes, legend:legends, series:series, graphic:graphics, tooltip:{show:false}});
</script></body></html>
